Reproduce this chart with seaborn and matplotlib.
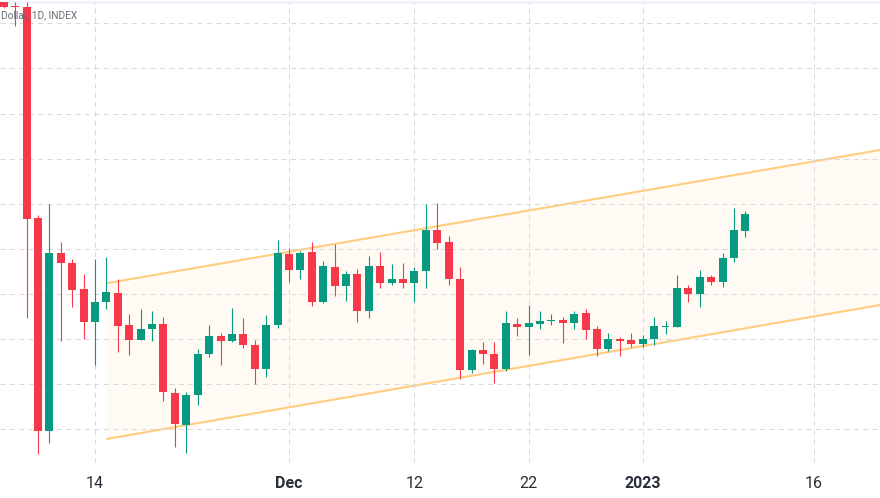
import matplotlib
matplotlib.use("Agg")
import matplotlib.dates as mdates
import matplotlib.pyplot as plt
import pandas as pd
import seaborn as sns

# daily candles, 6 Nov 2022 to 10 Jan 2023
highs = [107.748, 107.737, 107.737, 105.376, 105.498, 105.076, 104.888, 104.722, 104.885, 104.910,
         104.670, 104.278, 104.330, 104.315, 104.242, 103.455, 103.410, 103.894, 104.160, 104.071,
         104.345, 104.231, 103.990, 104.267, 105.099, 105.007, 104.977, 105.073, 104.866, 105.054,
         104.752, 104.777, 104.925, 104.962, 104.836, 104.844, 104.796, 105.498, 105.512, 105.140,
         104.796, 103.894, 103.964, 103.968, 104.308, 104.231, 104.378, 104.308, 104.275, 104.242,
         104.308, 104.337, 104.149, 104.064, 104.023, 104.071, 104.042, 104.245, 104.197, 104.711,
         104.596, 104.766, 104.707, 104.951, 105.453, 105.417]
lows = [107.671, 107.471, 104.234, 102.726, 102.851, 103.982, 104.359, 103.998, 103.713, 104.334,
        103.860, 103.820, 103.985, 103.979, 103.310, 102.800, 102.741, 103.269, 103.805, 103.713,
        103.971, 103.898, 103.502, 103.576, 104.126, 104.633, 104.663, 104.370, 104.404, 104.478,
        104.426, 104.193, 104.231, 104.563, 104.600, 104.563, 104.408, 104.563, 105.002, 104.603,
        103.561, 103.624, 103.727, 103.513, 103.643, 104.038, 103.824, 104.115, 104.153, 103.957,
        104.115, 104.004, 103.813, 103.868, 103.816, 103.909, 103.909, 103.938, 104.053, 104.131,
        104.415, 104.356, 104.603, 104.581, 104.858, 105.135]
opens = [107.737, 107.693, 107.682, 105.342, 102.984, 104.954, 104.847, 104.552, 104.193, 104.411,
         104.514, 104.160, 103.990, 104.109, 104.167, 103.402, 103.048, 103.380, 103.831, 104.031,
         103.979, 104.053, 103.931, 103.665, 104.153, 104.943, 104.763, 104.962, 104.408, 104.796,
         104.585, 104.718, 104.312, 104.807, 104.625, 104.670, 104.625, 104.752, 105.209, 105.080,
         104.670, 103.661, 103.876, 103.835, 103.669, 104.167, 104.134, 104.171, 104.203, 104.208,
         104.182, 104.286, 104.109, 103.890, 104.001, 103.993, 103.946, 104.001, 104.135, 104.134,
         104.570, 104.503, 104.688, 104.633, 104.896, 105.202]
closes = [107.687, 107.682, 105.331, 102.984, 104.954, 104.838, 104.544, 104.193, 104.415, 104.522,
          104.145, 103.990, 104.112, 104.167, 103.410, 103.059, 103.384, 103.835, 104.031, 103.979,
          104.053, 103.931, 103.672, 104.160, 104.951, 104.763, 104.951, 104.408, 104.807, 104.585,
          104.718, 104.312, 104.807, 104.625, 104.670, 104.625, 104.758, 105.209, 105.065, 104.663,
          103.661, 103.876, 103.831, 103.672, 104.178, 104.134, 104.178, 104.201, 104.212, 104.182,
          104.278, 104.104, 103.890, 104.004, 103.982, 103.946, 104.001, 104.142, 104.145, 104.563,
          104.503, 104.688, 104.633, 104.896, 105.209, 105.387]

channel_days = ["2022-11-15", "2023-01-22"]
channel_upper = [104.619, 106.101]
channel_lower = [102.892, 104.382]

price_ticks = [103, 103.5, 104, 104.5, 105, 105.5, 106, 106.5, 107, 107.5]
date_ticks = ["2022-11-14", "2022-12-01", "2022-12-12", "2022-12-22", "2023-01-01", "2023-01-16"]
date_labels = ["14", "Dec", "12", "22", "2023", "16"]
bold_labels = ["Dec", "2023"]

RED = "#F7374A"
GREEN = "#089981"
GRID = "#DADADA"
CHANNEL = "#FFCC80"
FILL = "#FFFAF3"

sns.set_theme(style="white")
plt.rcParams["font.family"] = ["Roboto", "DejaVu Sans"]

df = pd.DataFrame({"open": opens, "high": highs, "low": lows, "close": closes},
                  index=pd.date_range("2022-11-06", periods=len(opens), freq="D"))
df["day"] = mdates.date2num(df.index)
df["color"] = [GREEN if c >= o else RED for o, c in zip(df["open"], df["close"])]

channel_df = pd.DataFrame({"day": mdates.date2num(pd.to_datetime(channel_days)),
                           "upper": channel_upper, "lower": channel_lower})

fig = plt.figure(figsize=(8.8, 4.98), dpi=100)
ax = fig.add_axes([0, 35 / 498, 1, 461 / 498])

ax.fill_between(channel_df["day"], channel_df["lower"], channel_df["upper"],
                color=FILL, lw=0, zorder=1)
for col in ["upper", "lower"]:
    sns.lineplot(data=channel_df, x="day", y=col, color=CHANNEL, lw=1.5, ax=ax, zorder=2.5,
                 solid_capstyle="butt")

ax.vlines(df["day"], df["low"], df["high"], colors=df["color"], lw=0.8, zorder=3)
ax.bar(df["day"], (df["close"] - df["open"]).abs(), bottom=df[["open", "close"]].min(axis=1),
       width=0.7, color=df["color"], lw=0, zorder=4)

x0 = mdates.date2num(pd.Timestamp("2022-11-14"))
ax.set_xlim(x0 - 95 / 11.41, x0 + 785 / 11.41)
ax.set_ylim(102.626, 107.737)

ax.set_yticks(price_ticks)
ax.set_xticks(mdates.date2num(pd.to_datetime(date_ticks)))
ax.set_xticklabels(date_labels)
ax.tick_params(axis="y", left=False, labelleft=False)
ax.tick_params(axis="x", bottom=False, labelsize=11.5, labelcolor="#2A2E39", pad=3)
for label in ax.get_xticklabels():
    if label.get_text() in bold_labels:
        label.set_fontweight("bold")
ax.grid(True, color=GRID, lw=0.75, linestyle=(0, (5, 4)), zorder=0)
ax.set_axisbelow(False)
for line in ax.get_xgridlines() + ax.get_ygridlines():
    line.set_zorder(2)

for side in ["left", "right", "bottom"]:
    ax.spines[side].set_visible(False)
ax.spines["top"].set_color("#F0F3FA")
ax.spines["top"].set_linewidth(2)
ax.set_xlabel("")
ax.set_ylabel("")

ax.text(1, 483, "Dollar, 1D, INDEX", transform=None, ha="left", va="center",
        fontsize=7.3, color="#6A6D78", zorder=5)

fig.savefig("out.png", dpi=100)
